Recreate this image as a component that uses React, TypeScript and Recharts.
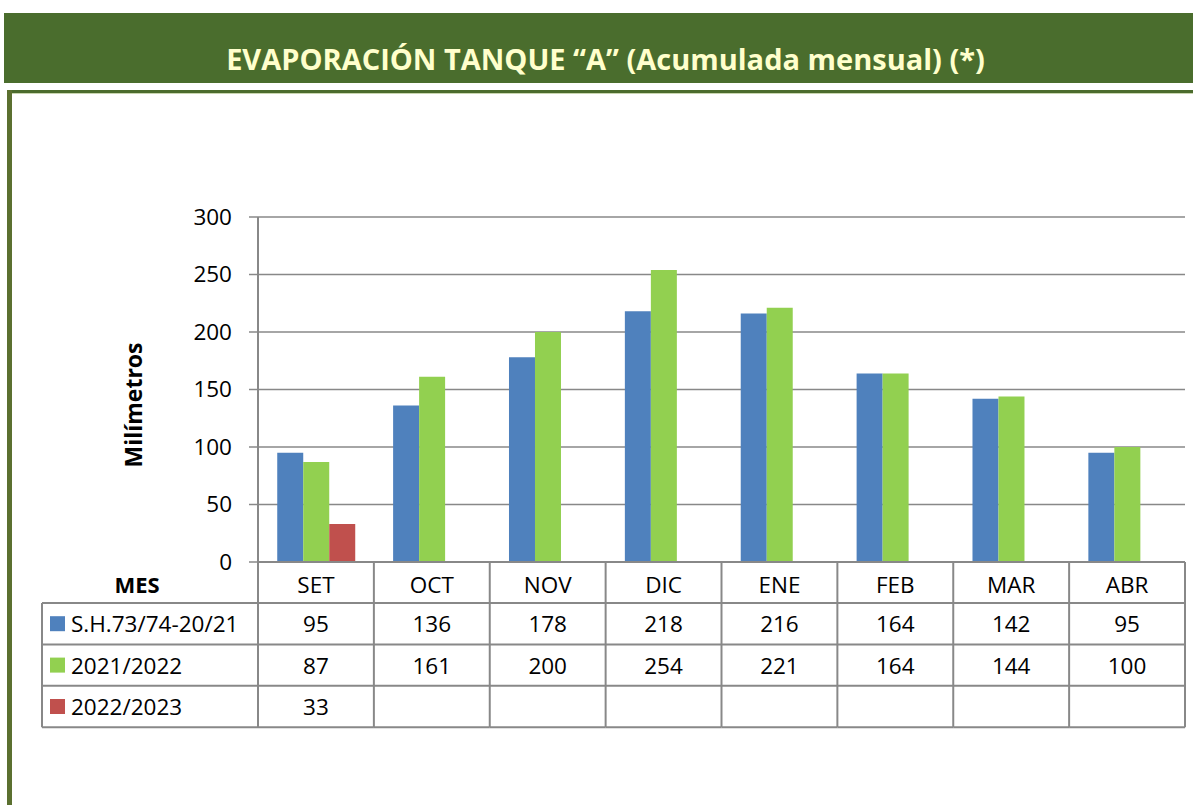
import React from "react";
import { BarChart, Bar, XAxis, YAxis, CartesianGrid } from "recharts";

const months = ["SET", "OCT", "NOV", "DIC", "ENE", "FEB", "MAR", "ABR"];
const histAvg = [95, 136, 178, 218, 216, 164, 142, 95];
const season2122 = [87, 161, 200, 254, 221, 164, 144, 100];
const season2223: (number | null)[] = [33, null, null, null, null, null, null, null];
const yTicks = [0, 50, 100, 150, 200, 250, 300];

const seriesNames = ["S.H.73/74-20/21", "2021/2022", "2022/2023"];
const seriesColors = ["#4F81BD", "#92D050", "#C0504D"];
const seriesValues = [histAvg, season2122, season2223];

const data = months.map((m, i) => ({
  mes: m,
  hist: histAvg[i],
  s2122: season2122[i],
  s2223: season2223[i],
}));

const W = 1193;
const H = 805;
const PLOT_LEFT = 258;
const PLOT_RIGHT = 1185;
const PLOT_TOP = 217;
const PLOT_H = 345;
const COL_W = (PLOT_RIGHT - PLOT_LEFT) / months.length;
const LEGEND_W = 216;
const ROW_H = 41.4;
const HEAD_H = 41;
const GRID = "#888888";
const FONT = "'Open Sans', sans-serif";

const TableTick = (props: any) => {
  const { x, y, payload, index } = props;
  const left = x - COL_W / 2;
  const right = x + COL_W / 2;
  const bottom = y + HEAD_H + ROW_H * 3;
  const els: React.ReactNode[] = [];
  els.push(
    <text key="h" x={x} y={y + 22} textAnchor="middle" dominantBaseline="central" fontSize={22.5} fill="#000" fontFamily={FONT}>
      {payload.value}
    </text>
  );
  seriesValues.forEach((arr, r) => {
    const v = arr[index];
    if (v !== null && v !== undefined) {
      els.push(
        <text key={"v" + r} x={x} y={y + HEAD_H + ROW_H * r + ROW_H / 2} textAnchor="middle" dominantBaseline="central" fontSize={22.5} fill="#000" fontFamily={FONT}>
          {v}
        </text>
      );
    }
  });
  for (let r = 0; r <= 3; r++) {
    const yy = y + HEAD_H + ROW_H * r;
    els.push(<line key={"hl" + r} x1={left} x2={right} y1={yy} y2={yy} stroke={GRID} strokeWidth={2} />);
  }
  els.push(<line key="rb" x1={right} x2={right} y1={y} y2={bottom} stroke={GRID} strokeWidth={2} />);
  if (index === 0) {
    const lx = left - LEGEND_W;
    els.push(<line key="lb" x1={left} x2={left} y1={y} y2={bottom} stroke={GRID} strokeWidth={2} />);
    els.push(<line key="llb" x1={lx} x2={lx} y1={y + HEAD_H} y2={bottom} stroke={GRID} strokeWidth={2} />);
    for (let r = 0; r <= 3; r++) {
      const yy = y + HEAD_H + ROW_H * r;
      els.push(<line key={"lhl" + r} x1={lx} x2={left} y1={yy} y2={yy} stroke={GRID} strokeWidth={2} />);
    }
    els.push(
      <text key="mes" x={lx + 95} y={y + 22} textAnchor="middle" dominantBaseline="central" fontSize={22} fontWeight="bold" fill="#000" fontFamily={FONT}>
        MES
      </text>
    );
    seriesNames.forEach((n, r) => {
      const cy = y + HEAD_H + ROW_H * r + ROW_H / 2;
      els.push(<rect key={"k" + r} x={lx + 8} y={cy - 7.5} width={15} height={15} fill={seriesColors[r]} />);
      els.push(
        <text key={"n" + r} x={lx + 29} y={cy} dominantBaseline="central" fontSize={22.5} fill="#000" fontFamily={FONT}>
          {n}
        </text>
      );
    });
  }
  return <g>{els}</g>;
};

const YLabel = () => (
  <text
    transform="translate(133,405) rotate(-90)"
    textAnchor="middle"
    dominantBaseline="central"
    fontSize={23}
    fontWeight="bold"
    fill="#000"
    fontFamily={FONT}
  >
    Milímetros
  </text>
);

export default function App() {
  return (
    <div style={{ position: "absolute", left: 0, top: 0, width: W, height: H, background: "#fff", overflow: "hidden", fontFamily: FONT }}>
      <div style={{ position: "absolute", left: 4, top: 13, width: W - 4, height: 70, background: "#4A6D2D" }} />
      <div
        style={{
          position: "absolute",
          left: 4,
          top: 13,
          width: W - 4,
          height: 70,
          display: "flex",
          alignItems: "center",
          justifyContent: "center",
          paddingLeft: 14,
          boxSizing: "border-box",
          color: "#FFFFCC",
          fontWeight: "bold",
          fontSize: 29,
          fontFamily: FONT,
          paddingTop: 20,
          whiteSpace: "nowrap",
        }}
      >
        EVAPORACIÓN TANQUE “A” (Acumulada mensual) (*)
      </div>
      <div style={{ position: "absolute", left: 7, top: 90, width: W - 7, height: 3, background: "#4B6B2D" }} />
      <div style={{ position: "absolute", left: 7, top: 93, width: W - 7, height: 1, background: "#C9D6B0" }} />
      <div style={{ position: "absolute", left: 7, top: 90, width: 5, height: H - 90, background: "#5B7030" }} />
      <div style={{ position: "absolute", left: 0, top: 0 }}>
        <BarChart
          width={W}
          height={H}
          data={data}
          margin={{ top: PLOT_TOP, right: W - PLOT_RIGHT, left: 0, bottom: 0 }}
          barCategoryGap="16.6%"
          barGap={0}
        >
          <CartesianGrid vertical={false} stroke={GRID} strokeWidth={1.5} />
          <YAxis
            width={PLOT_LEFT}
            domain={[0, 300]}
            ticks={yTicks}
            interval={0}
            tickSize={9}
            tickMargin={17}
            axisLine={{ stroke: GRID, strokeWidth: 2 }}
            tickLine={{ stroke: GRID, strokeWidth: 1.5 }}
            tick={{ fontSize: 22.5, fill: "#000", fontFamily: FONT }}
            label={{ content: <YLabel /> }}
          />
          <XAxis
            dataKey="mes"
            height={H - PLOT_TOP - PLOT_H}
            interval={0}
            tickSize={0}
            tickMargin={0}
            axisLine={{ stroke: GRID, strokeWidth: 2 }}
            tickLine={false}
            tick={<TableTick />}
          />
          <Bar dataKey="hist" fill={seriesColors[0]} isAnimationActive={false} />
          <Bar dataKey="s2122" fill={seriesColors[1]} isAnimationActive={false} />
          <Bar dataKey="s2223" fill={seriesColors[2]} isAnimationActive={false} />
        </BarChart>
      </div>
    </div>
  );
}
